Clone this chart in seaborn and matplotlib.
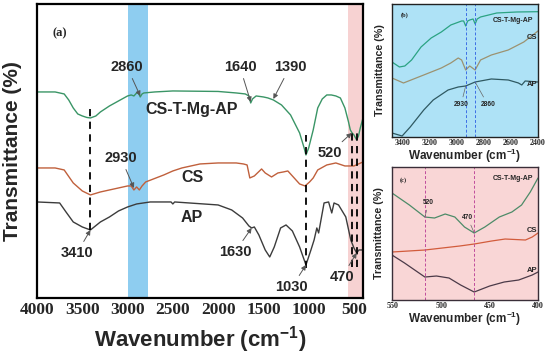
import numpy as np
import pandas as pd
import matplotlib
matplotlib.use("Agg")
import matplotlib.pyplot as plt
from matplotlib.ticker import MultipleLocator
import seaborn as sns

# ---------------- data ----------------
# Main panel (a)
wn_ctma = [4000, 3800, 3700, 3650, 3600, 3550, 3500, 3450, 3410, 3350, 3300, 3200, 3100, 3000,
           2960, 2930, 2900, 2880, 2860, 2840, 2820, 2700, 2500, 2000, 1800, 1700, 1660, 1640,
           1620, 1580, 1500, 1450, 1390, 1300, 1200, 1100, 1050, 1030, 1000, 950, 900, 850, 800,
           750, 700, 650, 600, 560, 540, 520, 500, 470, 450, 430, 400]
t_ctma = [206, 206, 204, 198, 190, 184, 182, 180.5, 180, 182, 186, 192, 197, 202,
          203, 202, 205, 205, 201, 204, 205, 206, 207, 206.5, 205, 204, 202, 195,
          199, 202, 201, 200, 198, 193, 183, 165, 150, 143, 150, 168, 190, 199, 203,
          203, 202, 200, 190, 176, 168, 165, 163, 158, 162, 170, 180]

wn_cs = [4000, 3800, 3700, 3600, 3500, 3410, 3300, 3200, 3100, 3000, 2960, 2930, 2900, 2870,
         2840, 2800, 2600, 2500, 2400, 2200, 2000, 1800, 1720, 1680, 1650, 1600, 1520, 1480,
         1410, 1340, 1280, 1230, 1150, 1100, 1040, 990, 950, 900, 800, 700, 600, 500, 400]
t_cs = [130, 130, 128, 115, 107, 103, 106, 108, 110, 112, 112, 108, 111, 108,
        112, 116, 123, 127, 130, 134, 135, 135, 134, 133, 120, 122, 129, 125,
        121, 125, 126, 127, 119, 114, 112, 116, 120, 128, 133, 135, 132, 132, 136]

wn_ap = [4000, 3750, 3680, 3600, 3500, 3410, 3300, 3200, 3100, 3000, 2900, 2750, 2520, 2500,
         2480, 2000, 1850, 1730, 1660, 1630, 1600, 1550, 1480, 1430, 1380, 1310, 1250, 1180,
         1100, 1030, 975, 940, 910, 890, 830, 780, 745, 720, 670, 590, 535, 500, 470, 445, 400]
t_ap = [96, 95, 86, 76, 71, 68, 76, 81, 87, 91, 94, 96, 96, 94,
        96, 93, 88, 80, 72, 70, 71, 63, 48, 41, 51, 70, 73, 67,
        51, 33, 48, 58, 70, 65, 95, 96, 85, 95, 93, 81, 58, 50, 45, 48, 48]

main_xticks = [4000, 3500, 3000, 2500, 2000, 1500, 1000, 500]

# Inset (b) 3475-2395 cm-1
wn_b_ctma = [3475, 3420, 3380, 3330, 3260, 3185, 3110, 3040, 2960, 2945, 2930, 2915, 2900,
             2875, 2860, 2845, 2820, 2700, 2550, 2395]
t_b_ctma = [75, 70, 71, 77, 90, 99, 105, 112, 116, 116, 111, 116, 117,
            118, 113, 118, 120, 124, 125, 125.3]
wn_b_cs = [3475, 3390, 3240, 3110, 3040, 2985, 2960, 2930, 2900, 2860, 2820, 2740, 2615, 2500, 2395]
t_b_cs = [59, 54, 62, 69, 74, 79, 77, 67, 71, 67, 77, 82, 87, 95, 106]
wn_b_ap = [3475, 3400, 3340, 3240, 3170, 3060, 2985, 2930, 2860, 2740, 2615, 2540, 2515, 2490, 2395]
t_b_ap = [4, 1, 10, 27, 37, 47, 50, 51, 55, 58, 57, 54, 52, 56, 55]
b_xticks = [3400, 3200, 3000, 2800, 2600, 2400]
b_dashed = [2930, 2860]

# Inset (c) 550-400 cm-1
wn_c_ctma = [551, 533, 517, 507, 496, 486, 476, 466, 455, 440, 427, 417, 408, 400]
t_c_ctma = [107, 95, 83, 82, 86, 83, 73, 67, 73, 83, 88, 95, 108, 122]
wn_c_cs = [551, 517, 481, 466, 448, 434, 413, 406, 400]
t_c_cs = [48, 50, 54, 56, 59, 61, 60, 63, 67]
wn_c_ap = [551, 538, 517, 505, 492, 480, 466, 450, 435, 420, 406, 400]
t_c_ap = [45, 37, 23, 24, 22, 15, 8, 14, 18, 20, 25, 28]
c_xticks = [550, 500, 450, 400]
c_dashed = [517, 466]

# ---------------- style ----------------
sns.set_style("white")
plt.rcParams['font.family'] = ['Liberation Sans', 'DejaVu Sans']
plt.rcParams['mathtext.fontset'] = 'custom'
plt.rcParams['mathtext.rm'] = 'Liberation Sans:bold'
plt.rcParams['mathtext.bf'] = 'Liberation Sans:bold'
plt.rcParams['mathtext.it'] = 'Liberation Sans:bold'
plt.rcParams['mathtext.default'] = 'rm'
SANS = 'Liberation Sans'
SERIF = 'Liberation Serif'
XLAB = 'Wavenumber (cm$^{-1}$)'

fig = plt.figure(figsize=(5.5, 3.59), dpi=100)
fig.patch.set_facecolor('white')

C_GREEN = '#3a9566'
C_CS = '#c0603c'
C_AP = '#3c3c3c'

# ---------------- main panel ----------------
ax = fig.add_axes([0.0673, 0.170, 0.5927, 0.819])
ax.axvspan(3000, 2775, color='#8ecdf0', lw=0, zorder=0)
ax.axvspan(565, 400, color='#f7d2d2', lw=0, zorder=0)

sns.lineplot(x=wn_ctma, y=t_ctma, ax=ax, color=C_GREEN, lw=1.0, sort=False, estimator=None)
sns.lineplot(x=wn_cs, y=t_cs, ax=ax, color=C_CS, lw=1.0, sort=False, estimator=None)
sns.lineplot(x=wn_ap, y=t_ap, ax=ax, color=C_AP, lw=1.0, sort=False, estimator=None)

ax.set_xlim(4000, 400)
ax.set_ylim(0, 294)
ax.set_yticks([])
ax.set_xticks(main_xticks)
ax.xaxis.set_minor_locator(MultipleLocator(250))
ax.tick_params(axis='x', which='major', direction='in', length=4, width=1.2, pad=3,
               labelsize=12.5)
ax.tick_params(axis='x', which='minor', direction='in', length=2.5, width=1.0)
for lab in ax.get_xticklabels():
    lab.set_fontfamily(SERIF)
    lab.set_fontweight('bold')
for s in ax.spines.values():
    s.set_linewidth(1.6)
    s.set_color('black')

ax.set_xlabel(XLAB, fontsize=16, fontweight='bold', family=SANS, labelpad=4)
ax.set_ylabel('Transmittance (%)', fontsize=15, fontweight='bold', family=SANS)
ax.yaxis.set_label_coords(-0.046, 0.5)

# dashed guide lines
dash_kw = dict(color='black', lw=1.3, ls=(0, (4, 3)), zorder=3)
ax.plot([3410, 3410], [68, 190], **dash_kw)
ax.plot([1030, 1030], [30, 163], **dash_kw)
ax.plot([520, 520], [31, 168], **dash_kw)
ax.plot([470, 470], [31, 168], **dash_kw)

arrow_kw = dict(arrowstyle='-|>', color='#555555', lw=0.7, mutation_scale=7,
                shrinkA=1, shrinkB=0)
ann_font = dict(fontsize=10.5, fontweight='bold', family=SANS, ha='center', va='center')


def ann(a, text, xy, xytext, **kw):
    f = dict(ann_font)
    f.update(kw)
    a.annotate(text, xy=xy, xytext=xytext, arrowprops=arrow_kw, **f)


ann(ax, '2860', (2860, 202), (3006, 231))
ann(ax, '1640', (1640, 196), (1759, 231))
ann(ax, '1390', (1390, 199), (1207, 231))
ann(ax, '2930', (2930, 110), (3073, 140))
ann(ax, '3410', (3410, 68), (3558, 45))
ann(ax, '1630', (1630, 70), (1814, 46))
ann(ax, '1030', (1030, 33), (1185, 11))
ann(ax, '520', (525, 165), (765, 145))
ann(ax, '470', (470, 45), (633, 21))

ax.text(2289, 188, 'CS-T-Mg-AP', fontsize=11.5, fontweight='bold', family=SANS,
        ha='center', va='center')
ax.text(2278, 120, 'CS', fontsize=11.5, fontweight='bold', family=SANS, ha='center', va='center')
ax.text(2289, 80, 'AP', fontsize=11.5, fontweight='bold', family=SANS, ha='center', va='center')
ax.text(3746, 265, '(a)', fontsize=9, fontweight='bold', family=SERIF, ha='center', va='center')

# ---------------- inset (b) ----------------
axb = fig.add_axes([0.7127, 0.6184, 0.2655, 0.3705])
axb.set_facecolor('#aee2f6')
sns.lineplot(x=wn_b_ctma, y=t_b_ctma, ax=axb, color='#2ba383', lw=0.9, sort=False, estimator=None)
sns.lineplot(x=wn_b_cs, y=t_b_cs, ax=axb, color='#9c9270', lw=0.9, sort=False, estimator=None)
sns.lineplot(x=wn_b_ap, y=t_b_ap, ax=axb, color='#2f5962', lw=0.9, sort=False, estimator=None)
for d in b_dashed:
    axb.axvline(d, color='#3d6fe6', lw=0.7, ls=(0, (3, 2)))
axb.set_xlim(3475, 2395)
axb.set_ylim(0, 133)
axb.set_yticks([])
axb.set_xticks(b_xticks)
axb.xaxis.set_minor_locator(MultipleLocator(100))
axb.tick_params(axis='x', which='major', direction='in', length=2.5, width=0.7, pad=1.5,
                labelsize=5.8)
axb.tick_params(axis='x', which='minor', direction='in', length=1.5, width=0.6)
for lab in axb.get_xticklabels():
    lab.set_fontfamily(SERIF)
    lab.set_fontweight('bold')
for s in axb.spines.values():
    s.set_linewidth(1.0)
    s.set_color('#222222')
axb.set_xlabel(XLAB, fontsize=8.5, fontweight='bold', family=SANS, labelpad=0)
axb.set_ylabel('Transmittance (%)', fontsize=7.7, fontweight='bold', family=SANS)
axb.yaxis.set_label_coords(-0.048, 0.5)

small_arrow = dict(arrowstyle='-', color='#666666', lw=0.5, shrinkA=1, shrinkB=0)
axb.text(3379, 122, '(b)', fontsize=4.5, fontweight='bold', family=SERIF, ha='center', va='center')
axb.text(2580, 116, 'CS-T-Mg-AP', fontsize=5, fontweight='bold', family=SANS, ha='center', va='center')
axb.text(2400, 99, 'CS', fontsize=5.5, fontweight='bold', family=SANS, ha='right', va='center')
axb.text(2400, 52, 'AP', fontsize=5.5, fontweight='bold', family=SANS, ha='right', va='center')
axb.annotate('2930', xy=(2930, 51), xytext=(2965, 32), arrowprops=small_arrow,
             fontsize=4.8, fontweight='bold', family=SANS, ha='center', va='center')
axb.annotate('2860', xy=(2860, 55), xytext=(2765, 32), arrowprops=small_arrow,
             fontsize=4.8, fontweight='bold', family=SANS, ha='center', va='center')

# ---------------- inset (c) ----------------
axc = fig.add_axes([0.7127, 0.1643, 0.2655, 0.3705])
axc.set_facecolor('#f9d6d6')
sns.lineplot(x=wn_c_ctma, y=t_c_ctma, ax=axc, color='#4d8b68', lw=0.9, sort=False, estimator=None)
sns.lineplot(x=wn_c_cs, y=t_c_cs, ax=axc, color='#d25c3c', lw=0.9, sort=False, estimator=None)
sns.lineplot(x=wn_c_ap, y=t_c_ap, ax=axc, color='#4b3a48', lw=0.9, sort=False, estimator=None)
for d in c_dashed:
    axc.axvline(d, color='#c04c9c', lw=0.7, ls=(0, (3, 2)))
axc.set_xlim(551, 400)
axc.set_ylim(0, 133)
axc.set_yticks([])
axc.set_xticks(c_xticks)
axc.xaxis.set_minor_locator(MultipleLocator(25))
axc.tick_params(axis='x', which='major', direction='in', length=2.5, width=0.7, pad=1.5,
                labelsize=5.8)
axc.tick_params(axis='x', which='minor', direction='in', length=1.5, width=0.6)
for lab in axc.get_xticklabels():
    lab.set_fontfamily(SERIF)
    lab.set_fontweight('bold')
for s in axc.spines.values():
    s.set_linewidth(1.0)
    s.set_color('#3a2e38')
axc.set_xlabel(XLAB, fontsize=8.5, fontweight='bold', family=SANS, labelpad=0)
axc.set_ylabel('Transmittance (%)', fontsize=7.7, fontweight='bold', family=SANS)
axc.yaxis.set_label_coords(-0.055, 0.5)

axc.text(539, 120, '(c)', fontsize=4.5, fontweight='bold', family=SERIF, ha='center', va='center')
axc.text(426, 122, 'CS-T-Mg-AP', fontsize=5, fontweight='bold', family=SANS, ha='center', va='center')
axc.text(401, 70, 'CS', fontsize=5.5, fontweight='bold', family=SANS, ha='right', va='center')
axc.text(401, 30, 'AP', fontsize=5.5, fontweight='bold', family=SANS, ha='right', va='center')
axc.annotate('520', xy=(517, 83), xytext=(513, 98), arrowprops=small_arrow,
             fontsize=4.8, fontweight='bold', family=SANS, ha='center', va='center')
axc.annotate('470', xy=(466, 67), xytext=(473, 83), arrowprops=small_arrow,
             fontsize=4.8, fontweight='bold', family=SANS, ha='center', va='center')

fig.savefig('out.png', dpi=100, facecolor='white')
